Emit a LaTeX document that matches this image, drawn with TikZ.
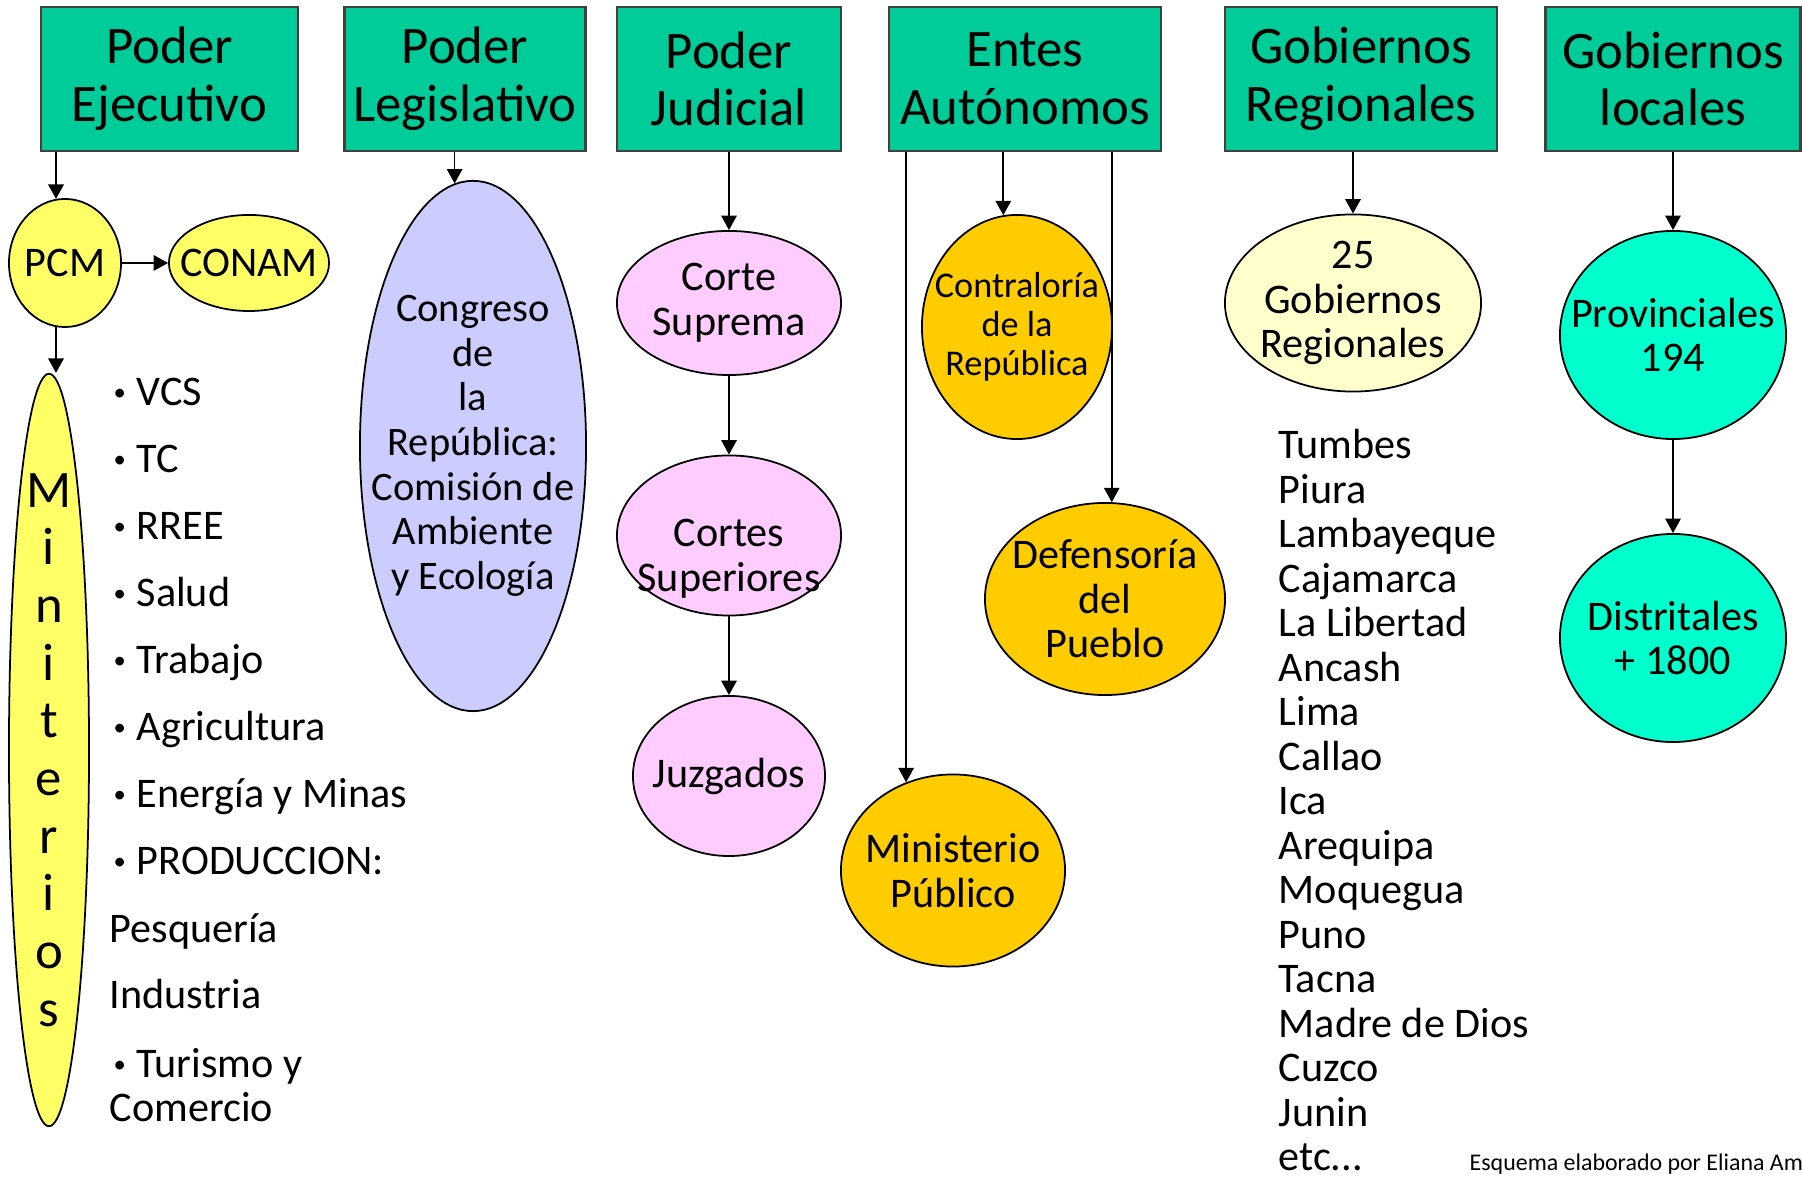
\documentclass[tikz,border=0pt]{standalone}
\usepackage{fontspec}
\setmainfont{Carlito}
\usetikzlibrary{shapes.geometric,arrows.meta}

\definecolor{poderverde}{HTML}{00CC99}
\definecolor{amarillo}{HTML}{FFFF66}
\definecolor{lila}{HTML}{CCCCFF}
\definecolor{rosa}{HTML}{FFCCFF}
\definecolor{naranja}{HTML}{FFCC00}
\definecolor{crema}{HTML}{FFFFCC}
\definecolor{turquesa}{HTML}{00FFCC}

\begin{document}
\begin{tikzpicture}[x=0.01cm, y=-0.01cm,
  poder/.style={draw=black!75, line width=0.7pt, fill=poderverde, minimum height=1.44cm,
    inner sep=0pt, align=center, font=\fontsize{15}{16.4}\selectfont},
  ovalo/.style={ellipse, draw, line width=0.5pt, inner sep=-0.8cm, align=center,
    font=\fontsize{12}{12.7}\selectfont},
  flecha/.style={-{Triangle[length=4.1pt, width=4.4pt]}, line width=0.45pt},
  lista/.style={anchor=base west, inner sep=0pt, font=\fontsize{12}{12.7}\selectfont}]
  \useasboundingbox (0,0) rectangle (1802,1177);

  \node[poder, minimum width=2.57cm] (ejec) at (169.5,79) {Poder\\Ejecutivo};
  \node[poder, minimum width=2.41cm] (legis) at (465,79) {Poder\\Legislativo};
  \node[poder, minimum width=2.24cm] (judic) at (729,79) {Poder\\Judicial};
  \node[poder, minimum width=2.72cm] (entes) at (1025,79) {Entes\\Autónomos};
  \node[poder, minimum width=2.72cm] (gobreg) at (1361,79) {Gobiernos\\Regionales};
  \node[poder, minimum width=2.55cm] (gobloc) at (1673,79) {Gobiernos\\locales};

  \node[ovalo, fill=amarillo, minimum width=1.12cm, minimum height=1.28cm] (pcm) at (65,263) {PCM};
  \node[ovalo, fill=amarillo, minimum width=1.6cm, minimum height=0.96cm] (conam) at (249,263) {CONAM};
  \node[ovalo, fill=amarillo, minimum width=0.8cm, minimum height=7.52cm,
    font=\fontsize{15}{16.4}\selectfont] (minis) at (49,750) {M\\i\\n\\i\\t\\e\\r\\i\\o\\s};
  \node[ovalo, fill=lila, minimum width=2.26cm, minimum height=5.3cm,
    font=\fontsize{11.5}{12.7}\selectfont] (congreso) at (473,446)
    {Congreso\\de\\la\\República:\\Comisión de\\Ambiente\\y Ecología};
  \node[ovalo, fill=rosa, minimum width=2.24cm, minimum height=1.44cm] (corte) at (729,303) {Corte\\Suprema};
  \node[ovalo, fill=rosa, minimum width=2.24cm, minimum height=1.6cm] (cortes) at (729,535.5)
    {\rule{0pt}{21pt}Cortes\\Superiores};
  \node[ovalo, fill=rosa, minimum width=1.92cm, minimum height=1.6cm] (juzg) at (729,776) {Juzgados};
  \node[ovalo, fill=naranja, minimum width=1.9cm, minimum height=2.24cm,
    font=\fontsize{10.3}{11}\selectfont] (contra) at (1017,327) {Contraloría\\de la\\República};
  \node[ovalo, fill=naranja, minimum width=2.4cm, minimum height=1.92cm] (defen) at (1105,599) {Defensoría\\del\\Pueblo};
  \node[ovalo, fill=naranja, minimum width=2.24cm, minimum height=1.92cm] (minpub) at (953,870.5) {Ministerio\\Público};
  \node[ovalo, fill=crema, minimum width=2.56cm, minimum height=1.77cm] (gob25) at (1353,303) {25\\Gobiernos\\Regionales};
  \node[ovalo, fill=turquesa, minimum width=2.26cm, minimum height=2.08cm] (prov) at (1673,335) {Provinciales\\194};
  \node[ovalo, fill=turquesa, minimum width=2.26cm, minimum height=2.08cm] (distr) at (1673,638) {Distritales\\+ 1800};

  \draw[flecha] (ejec.south -| pcm.98) -- (pcm.98);
  \draw[flecha] (pcm.east) -- (conam.west);
  \draw[flecha] (pcm.262) -- (pcm.262 |- minis.north);
  \draw[flecha] (legis.south -| congreso.94) -- (congreso.94);
  \draw[flecha] (judic.south) -- (corte.north);
  \draw[flecha] (corte.south) -- (cortes.north);
  \draw[flecha] (cortes.south) -- (juzg.north);
  \draw[flecha] (entes.south -| contra.97) -- (contra.97);
  \draw[flecha] (entes.south -| defen.86) -- (defen.86);
  \draw[flecha] (entes.south -| minpub.118) -- (minpub.118);
  \draw[flecha] (gobreg.south -| gob25.north) -- (gob25.north);
  \draw[flecha] (gobloc.south) -- (prov.north);
  \draw[flecha] (prov.south) -- (distr.north);

  \foreach \sector [count=\i] in {VCS,TC,RREE,Salud,Trabajo,Agricultura,Energía y Minas,PRODUCCION:}
    \node[lista] (sector\i) at (113, {406+67*(\i-1)})
      {\makebox[0.23cm][l]{\raisebox{0.12em}{\fontsize{7}{7}\selectfont\textbullet}}\sector};
  \node[lista] (pesca) at (109,943) {Pesquería};
  \node[lista] (industria) at (109,1009) {Industria};
  \node[lista, align=left] (turismo) at (109,1122)
    {\hspace{0.04cm}\makebox[0.23cm][l]{\raisebox{0.12em}{\fontsize{7}{7}\selectfont\textbullet}}Turismo y\\Comercio};

  \foreach \region [count=\i] in {Tumbes,Piura,Lambayeque,Cajamarca,La Libertad,Ancash,Lima,Callao,Ica,
      Arequipa,Moquegua,Puno,Tacna,Madre de Dios,Cuzco,Junin,etc.{}.{}.}
    \node[lista] (region\i) at (1278, {459+44.5*(\i-1)}) {\region};

  \node[lista, font=\fontsize{6.8}{7}\selectfont] (autora) at (1469,1171) {Esquema elaborado por Eliana Am};

\end{tikzpicture}
\end{document}
